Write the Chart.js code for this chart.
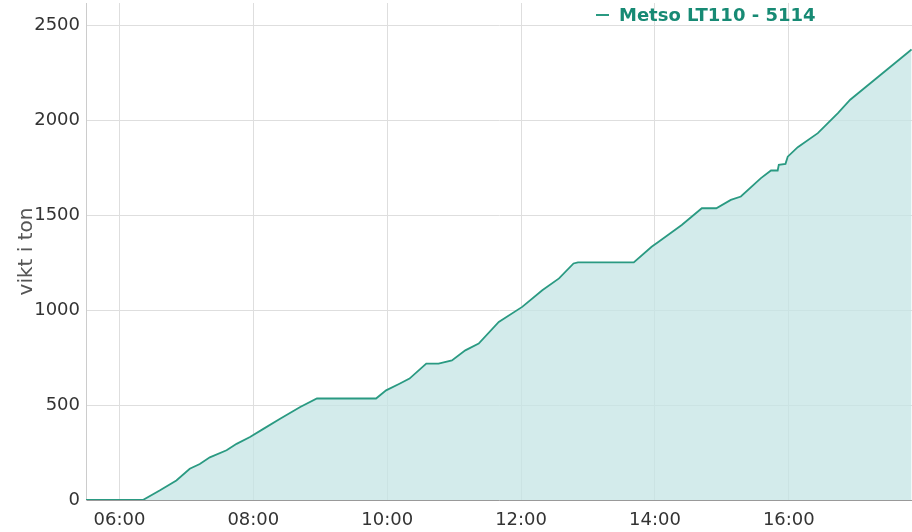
<!DOCTYPE html>
<html>
<head>
<meta charset="utf-8">
<script src="https://cdn.jsdelivr.net/npm/chart.js@4"></script>
<style>
  html, body { margin: 0; padding: 0; background: #fff; }
  #wrap { width: 912px; height: 532px; position: relative; }
</style>
</head>
<body>
<div id="wrap"><canvas id="weightChart"></canvas></div>
<script>
const seriesName = "Metso LT110 - 5114";
const times = [
    "05:30", "06:21", "06:36", "06:51", "07:03", "07:12", "07:21", "07:36",
    "07:45", "07:57", "08:09", "08:24", "08:42", "08:57", "09:50", "09:59",
    "10:11", "10:20", "10:35", "10:46", "10:58", "11:10", "11:22", "11:40",
    "12:01", "12:19", "12:34", "12:47", "12:51", "13:41", "13:57", "14:03",
    "14:24", "14:42", "14:55", "15:08", "15:17", "15:35", "15:44", "15:50",
    "15:51", "15:57", "15:59", "16:08", "16:26", "16:44", "16:55", "17:47",
    "17:50",
];
const tons = [
    0, 0, 50, 103, 165, 190, 225, 262,
    296, 332, 375, 428, 490, 535, 535, 578,
    613, 640, 719, 719, 736, 789, 825, 939,
    1018, 1106, 1168, 1247, 1253, 1253, 1335, 1360,
    1450, 1538, 1538, 1582, 1600, 1697, 1737, 1737,
    1767, 1772, 1810, 1860, 1934, 2040, 2110, 2360,
    2375,
];
const xTickHours = [6, 8, 10, 12, 14, 16];
const yTickValues = [0, 500, 1000, 1500, 2000, 2500];

const toHours = (t) => {
    const [h, m] = t.split(":").map(Number);
    return h + m / 60;
};
const fmtHour = (v) => String(Math.floor(v)).padStart(2, "0") + ":00";

const lineColor = "#2a9a82";
const fillColor = "rgba(196, 228, 228, 0.75)";
const fontFamily = "'DejaVu Sans', Verdana, sans-serif";

// legend drawn inside the plot, top right, like the original
const topLegend = {
    id: "topLegend",
    afterDraw(chart) {
        const ctx = chart.ctx;
        ctx.save();
        ctx.strokeStyle = lineColor;
        ctx.lineWidth = 2;
        ctx.beginPath();
        ctx.moveTo(596, 15);
        ctx.lineTo(609, 15);
        ctx.stroke();
        ctx.fillStyle = "#178a74";
        ctx.font = "bold 18px " + fontFamily;
        ctx.textBaseline = "middle";
        ctx.textAlign = "left";
        ctx.fillText(seriesName, 619, 16);
        ctx.restore();
    },
};

const whiteBg = {
    id: "whiteBg",
    beforeDraw(chart) {
        const ctx = chart.ctx;
        ctx.save();
        ctx.fillStyle = "#fff";
        ctx.fillRect(0, 0, chart.width, chart.height);
        ctx.restore();
    },
};

new Chart(document.getElementById("weightChart"), {
    type: "line",
    data: {
        datasets: [
            {
                label: seriesName,
                data: times.map((t, i) => ({ x: toHours(t), y: tons[i] })),
                borderColor: lineColor,
                backgroundColor: fillColor,
                borderWidth: 1.8,
                fill: "origin",
                pointRadius: 0,
                tension: 0,
            },
        ],
    },
    options: {
        responsive: true,
        maintainAspectRatio: false,
        animation: false,
        layout: { padding: { top: 3, right: 0, left: 0, bottom: 0 } },
        plugins: {
            legend: { display: false },
            tooltip: { enabled: false },
        },
        scales: {
            x: {
                type: "linear",
                min: 5.5,
                max: 17.84,
                afterBuildTicks: (axis) => {
                    axis.ticks = xTickHours.map((v) => ({ value: v }));
                },
                afterFit: (axis) => {
                    axis.height = 32;
                    axis.paddingLeft = 0;
                    axis.paddingRight = 0;
                },
                ticks: {
                    callback: (v) => fmtHour(v),
                    color: "#333",
                    font: { family: fontFamily, size: 18 },
                    padding: 10,
                    maxRotation: 0,
                },
                grid: { color: "#dedede", drawTicks: false },
                border: { color: "#999" },
            },
            y: {
                min: 0,
                max: 2620,
                afterBuildTicks: (axis) => {
                    axis.ticks = yTickValues.map((v) => ({ value: v }));
                },
                afterFit: (axis) => {
                    axis.width = 86;
                    axis.paddingTop = 0;
                    axis.paddingBottom = 0;
                },
                title: {
                    display: true,
                    text: "vikt i ton",
                    color: "#555",
                    font: { family: fontFamily, size: 20 },
                    padding: { top: 15, bottom: 0 },
                },
                ticks: {
                    callback: (v) => String(v),
                    color: "#333",
                    font: { family: fontFamily, size: 18 },
                    padding: 6,
                },
                grid: { color: "#dedede", drawTicks: false },
                border: { color: "#ccc" },
            },
        },
    },
    plugins: [whiteBg, topLegend],
});
</script>
</body>
</html>
